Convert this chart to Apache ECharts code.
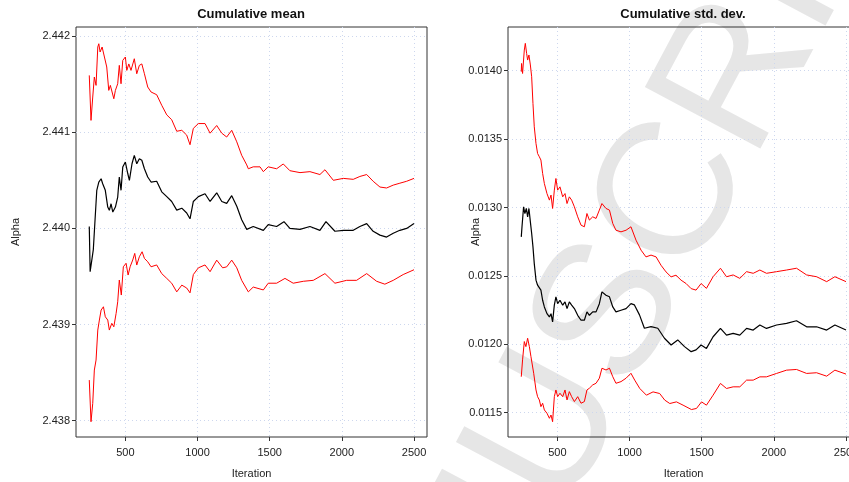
<!DOCTYPE html>
<html>
<head>
<meta charset="utf-8">
<script src="https://cdn.jsdelivr.net/npm/echarts@6/dist/echarts.min.js"></script>
<style>
html,body{margin:0;padding:0;background:#fff;}
#chart{width:849px;height:482px;}
</style>
</head>
<body>
<div id="chart"></div>
<script>
// ---- Data ----
const xTicks = [500, 1000, 1500, 2000, 2500];
const meanTicks = [2.438, 2.439, 2.440, 2.441, 2.442];
const sdTicks = [0.0115, 0.0120, 0.0125, 0.0130, 0.0135, 0.0140];

// Cumulative mean panel
const meanUpperIter = [250,262,274,285,297,309,316,325,339,355,371,385,396,408,420,431,447,458,470,482,500,510,524,539,562,579,597,614,632,655,678,717,752,787,821,856,891,925,948,971,1006,1052,1087,1133,1168,1202,1237,1272,1306,1341,1352,1386,1433,1456,1490,1548,1594,1640,1710,1779,1848,1883,1941,2010,2079,2125,2172,2217,2264,2310,2356,2402,2449,2500];
const meanUpper = [2.441591,2.441123,2.441366,2.441574,2.441487,2.441886,2.44192,2.441834,2.441886,2.441782,2.441678,2.441435,2.441487,2.441418,2.441348,2.441435,2.441504,2.441695,2.441504,2.441747,2.441782,2.441643,2.44171,2.441643,2.441764,2.441608,2.441695,2.44171,2.441608,2.44147,2.441418,2.44139,2.44128,2.44118,2.44113,2.44101,2.44102,2.44097,2.44087,2.44104,2.44109,2.44109,2.44099,2.44107,2.44099,2.44095,2.44102,2.4409,2.44076,2.44066,2.44062,2.44064,2.44064,2.44059,2.44064,2.44062,2.44067,2.4406,2.44058,2.44059,2.44056,2.44061,2.4405,2.44052,2.44051,2.44054,2.44056,2.44049,2.44043,2.44042,2.44045,2.44047,2.44049,2.44052];

const meanMidIter = [250,256,278,290,302,316,332,343,361,378,389,401,413,431,447,458,470,482,500,517,528,546,562,579,597,614,632,655,678,717,752,787,821,856,891,925,948,971,1006,1052,1087,1133,1168,1202,1237,1272,1306,1341,1386,1456,1490,1548,1599,1640,1710,1779,1848,1890,1952,2010,2079,2125,2172,2217,2264,2310,2356,2402,2449,2500];
const meanMid = [2.44002,2.43955,2.43978,2.44009,2.440396,2.440482,2.440516,2.440464,2.440396,2.440222,2.440188,2.440256,2.44017,2.440222,2.440326,2.440534,2.440396,2.440638,2.44069,2.440568,2.4405,2.440672,2.44076,2.440672,2.440724,2.440708,2.44062,2.440534,2.440482,2.44049,2.44038,2.44033,2.44028,2.44019,2.44021,2.44016,2.4401,2.44028,2.44033,2.44036,2.44028,2.44037,2.44028,2.44026,2.44034,2.44023,2.44009,2.43999,2.44002,2.43998,2.44004,2.44002,2.44007,2.44,2.43999,2.44002,2.43998,2.44007,2.43997,2.43998,2.43998,2.44002,2.44005,2.43997,2.43993,2.43991,2.43995,2.43998,2.44,2.44005];

const meanLowerIter = [250,262,274,285,297,309,320,332,348,361,378,389,406,420,436,447,458,472,486,505,519,533,551,565,579,597,616,632,655,678,717,752,787,821,856,891,925,948,971,1006,1052,1087,1133,1174,1202,1237,1272,1306,1352,1386,1456,1490,1548,1606,1663,1733,1802,1883,1952,2033,2102,2172,2241,2298,2356,2425,2500];
const meanLower = [2.438423,2.43799,2.438181,2.438527,2.438631,2.438943,2.439047,2.439151,2.439185,2.439081,2.439047,2.438943,2.439013,2.438977,2.439116,2.439237,2.439463,2.439307,2.439601,2.439637,2.439515,2.439601,2.439671,2.43974,2.439619,2.439705,2.439757,2.439688,2.439653,2.439601,2.43962,2.43953,2.43948,2.43943,2.43934,2.43941,2.43938,2.43933,2.43952,2.43959,2.43962,2.43955,2.43967,2.43959,2.4396,2.43967,2.43959,2.43946,2.43934,2.43939,2.43936,2.43943,2.43943,2.43948,2.43943,2.43945,2.43946,2.43953,2.43943,2.43946,2.43946,2.43953,2.43945,2.43942,2.43946,2.43952,2.43957];

// Cumulative std. dev. panel
const sdUpperIter = [250,252,259,271,278,287,294,303,313,322,331,340,352,363,375,386,398,410,428,445,456,467,479,490,502,518,537,553,567,583,599,618,641,664,687,705,722,745,768,791,809,837,861,884,906,941,976,1010,1045,1080,1114,1149,1184,1218,1253,1288,1322,1357,1392,1427,1461,1496,1533,1579,1630,1672,1718,1764,1811,1857,1903,1949,2019,2088,2157,2227,2296,2366,2423,2500];
const sdUpper = [0.013993,0.014053,0.01398,0.014151,0.0142,0.014127,0.014078,0.014115,0.014042,0.013956,0.013761,0.01359,0.013468,0.013395,0.013371,0.013347,0.013249,0.013175,0.013102,0.013054,0.013091,0.012993,0.013127,0.013212,0.013127,0.013151,0.013078,0.013102,0.013029,0.013078,0.013054,0.013005,0.012932,0.012871,0.012859,0.012956,0.012908,0.012932,0.01292,0.012981,0.013029,0.012993,0.012981,0.012883,0.012834,0.012822,0.012834,0.012859,0.012761,0.012688,0.012639,0.012652,0.012639,0.012578,0.012529,0.012493,0.012505,0.012469,0.012444,0.012407,0.012396,0.012444,0.012409,0.012494,0.012556,0.012494,0.012507,0.012482,0.012531,0.012519,0.012543,0.012519,0.012531,0.012543,0.012556,0.012507,0.012494,0.012458,0.012494,0.012458];

const sdMidIter = [250,255,266,275,285,294,303,313,322,331,340,352,363,375,386,398,410,428,445,456,467,479,490,502,518,537,553,567,583,599,618,641,664,687,705,722,745,768,791,809,837,861,884,906,941,976,1010,1034,1069,1103,1149,1196,1242,1288,1334,1381,1427,1461,1496,1533,1579,1630,1672,1718,1764,1811,1857,1903,1949,2019,2088,2157,2227,2296,2366,2423,2500];
const sdMid = [0.012785,0.012859,0.013005,0.012956,0.012993,0.012932,0.012993,0.012895,0.01281,0.012712,0.01259,0.012469,0.012432,0.01242,0.012396,0.012322,0.012273,0.012224,0.0122,0.012224,0.012164,0.012286,0.012347,0.012297,0.012322,0.012286,0.01231,0.012261,0.01231,0.012286,0.012261,0.012212,0.012176,0.012176,0.012237,0.012212,0.012237,0.012237,0.012297,0.012383,0.012359,0.012347,0.012273,0.012237,0.012249,0.012261,0.012297,0.012288,0.012215,0.012117,0.012129,0.012117,0.012044,0.011995,0.012032,0.011983,0.011946,0.011959,0.011995,0.01197,0.012055,0.012116,0.012067,0.01208,0.012067,0.012116,0.012104,0.012141,0.012116,0.012141,0.012153,0.012172,0.012128,0.012128,0.012104,0.012141,0.012104];

const sdLowerIter = [250,259,271,282,294,306,317,336,352,363,375,386,398,410,428,445,456,467,479,490,502,518,537,553,567,583,599,618,641,664,687,705,722,745,768,791,809,837,861,884,906,941,976,1010,1036,1071,1117,1163,1209,1244,1279,1325,1371,1429,1464,1499,1533,1579,1630,1672,1718,1764,1811,1857,1903,1949,2019,2088,2157,2227,2296,2366,2423,2500];
const sdLower = [0.011763,0.011886,0.01202,0.011983,0.012044,0.011983,0.01191,0.011788,0.011666,0.011617,0.011593,0.011544,0.011569,0.01152,0.011496,0.011459,0.011483,0.011434,0.011617,0.011666,0.011617,0.011642,0.011617,0.011666,0.011593,0.011654,0.011617,0.011581,0.011617,0.011569,0.011581,0.011666,0.011679,0.011703,0.011715,0.011752,0.011825,0.011812,0.011825,0.011763,0.011715,0.011727,0.011752,0.011788,0.011738,0.011677,0.011628,0.011652,0.01164,0.011592,0.011567,0.011579,0.011555,0.011523,0.011531,0.011579,0.011555,0.011628,0.011714,0.011677,0.011689,0.011689,0.011738,0.011738,0.011762,0.011762,0.011787,0.011811,0.011816,0.011787,0.011792,0.011767,0.011811,0.011782];

const titles = ['Cumulative mean', 'Cumulative std. dev.'];
const xName = 'Iteration';
const yName = 'Alpha';
const watermark = 'MANUSCRIPT';

// ---- Chart ----
const pair = (xs, ys) => xs.map((x, i) => [x, ys[i]]);
const FONT = 'Liberation Sans, Arial, Helvetica, sans-serif';
const TXT = '#222';

function xAxisCfg(gi) {
  return {
    type: 'value', gridIndex: gi, min: 158, max: 2590,
    name: xName, nameLocation: 'middle', nameGap: 31, nameMoveOverlap: false,
    nameTextStyle: {fontFamily: FONT, fontSize: 11, color: TXT},
    axisLine: {show: false},
    axisTick: {show: true, inside: false, length: 4, customValues: xTicks, lineStyle: {color: '#333', width: 1}},
    axisLabel: {customValues: xTicks, margin: 10, fontFamily: FONT, fontSize: 11, color: TXT,
      formatter: v => String(v), hideOverlap: false},
    splitLine: {show: true, lineStyle: {color: '#cdd7ee', width: 1, type: [1, 3]}}
  };
}
function yAxisCfg(gi, min, max, ticks, dec, gap) {
  return {
    type: 'value', gridIndex: gi, min: min, max: max,
    name: yName, nameLocation: 'middle', nameGap: gap, nameRotate: 90, nameMoveOverlap: false,
    nameTextStyle: {fontFamily: FONT, fontSize: 11, color: TXT},
    axisLine: {show: false},
    axisTick: {show: true, inside: false, length: 4, customValues: ticks, lineStyle: {color: '#333', width: 1}},
    axisLabel: {customValues: ticks, margin: 6, fontFamily: FONT, fontSize: 11, color: TXT,
      formatter: v => Number(v).toFixed(dec)},
    splitLine: {show: true, lineStyle: {color: '#cdd7ee', width: 1, type: [1, 3]}}
  };
}
function line(name, gi, data, color, w) {
  return {
    name: name, type: 'line', xAxisIndex: gi, yAxisIndex: gi, data: data,
    showSymbol: false, symbol: 'none', smooth: false, z: 5,
    lineStyle: {color: color, width: w}, itemStyle: {color: color}
  };
}

const chart = echarts.init(document.getElementById('chart'), null, {renderer: 'canvas'});
chart.setOption({
  animation: false,
  backgroundColor: '#fff',
  title: [
    {text: titles[0], left: 251, top: 8, textAlign: 'center', padding: 0,
     textStyle: {fontFamily: FONT, fontSize: 13, fontWeight: 'bold', color: '#111'}},
    {text: titles[1], left: 683, top: 8, textAlign: 'center', padding: 0,
     textStyle: {fontFamily: FONT, fontSize: 13, fontWeight: 'bold', color: '#111'}}
  ],
  graphic: [{
    type: 'text', x: 615, y: 310, rotation: 62 * Math.PI / 180, z: -10, silent: true,
    style: {text: watermark, x: 0, y: 0, fontSize: 190, fontFamily: FONT,
      fill: '#e6e6e6', align: 'center', verticalAlign: 'middle'}
  }],
  grid: [
    {left: 76, width: 351, top: 27, bottom: 45, show: true, borderColor: '#333', borderWidth: 1,
     backgroundColor: 'transparent', outerBoundsMode: 'none', containLabel: false},
    {left: 508, width: 351, top: 27, bottom: 45, show: true, borderColor: '#333', borderWidth: 1,
     backgroundColor: 'transparent', outerBoundsMode: 'none', containLabel: false}
  ],
  xAxis: [xAxisCfg(0), xAxisCfg(1)],
  yAxis: [
    yAxisCfg(0, 2.437831, 2.442094, meanTicks, 3, 55),
    yAxisCfg(1, 0.0113222, 0.0143197, sdTicks, 4, 27)
  ],
  series: [
    line('upper', 0, pair(meanUpperIter, meanUpper), '#ff0000', 1),
    line('lower', 0, pair(meanLowerIter, meanLower), '#ff0000', 1),
    line('mean', 0, pair(meanMidIter, meanMid), '#000000', 1.2),
    line('upper', 1, pair(sdUpperIter, sdUpper), '#ff0000', 1),
    line('lower', 1, pair(sdLowerIter, sdLower), '#ff0000', 1),
    line('mean', 1, pair(sdMidIter, sdMid), '#000000', 1.2)
  ]
});
</script>
</body>
</html>
